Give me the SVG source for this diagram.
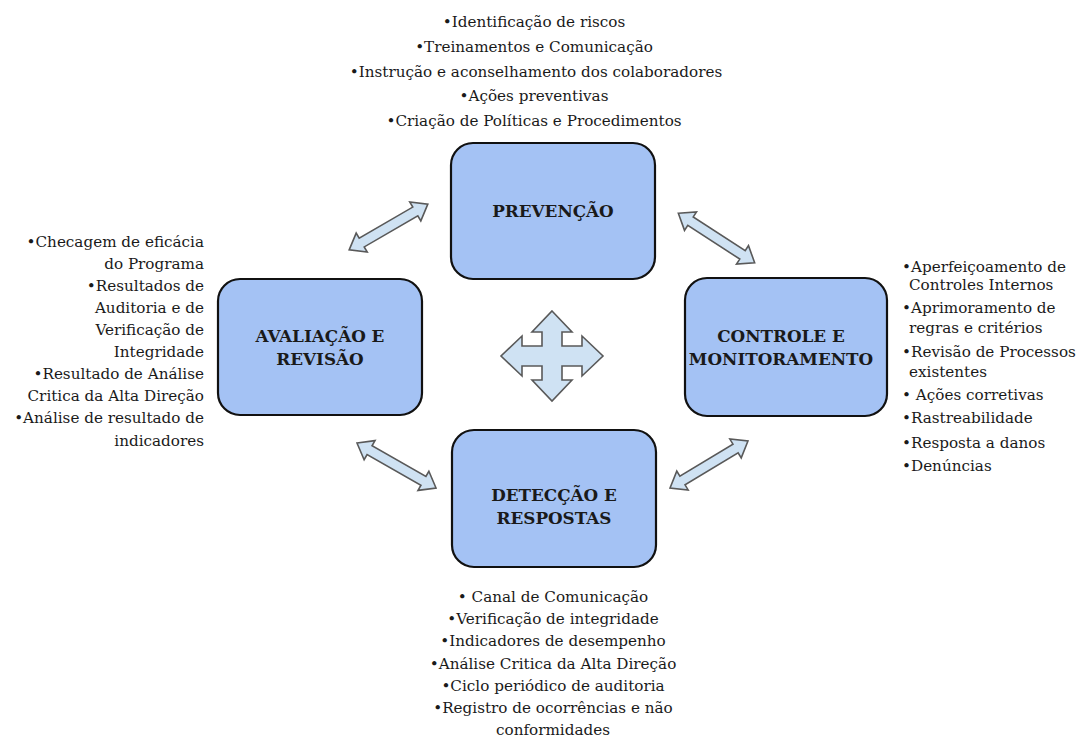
<svg xmlns="http://www.w3.org/2000/svg" xmlns:xlink="http://www.w3.org/1999/xlink" width="1080" height="737" viewBox="0 0 1080 737">
<style>
.box{fill:#a4c2f4;stroke:#111;stroke-width:2.2}
.lbl{font-family:"DejaVu Serif","Liberation Serif",serif;font-weight:bold;font-size:16.8px;fill:#1a1a1a;text-anchor:middle}
.txt{font-family:"DejaVu Serif","Liberation Serif",serif;font-size:15.2px;fill:#1a1a1a}
.arr{fill:#cfe2f3;stroke:#595959;stroke-width:1.6;stroke-linejoin:miter}
</style>
<defs>
<path id="dbl" d="M -45.5 0 L -31 -11 L -31 -5 L 31 -5 L 31 -11 L 45.5 0 L 31 11 L 31 5 L -31 5 L -31 11 Z"/>
</defs>
<rect width="1080" height="737" fill="#fff"/>

<g id="connectors">
<use xlink:href="#dbl" class="arr" transform="translate(388.5,227) rotate(-30.2)"/>
<use xlink:href="#dbl" class="arr" transform="translate(716.5,238) rotate(33)"/>
<use xlink:href="#dbl" class="arr" transform="translate(396.5,465.5) rotate(29.7)"/>
<use xlink:href="#dbl" class="arr" transform="translate(709,464.5) rotate(-31.1)"/>
<polygon class="arr" points="552,311 572,332 562,332 562,346 582,346 582,336 603,356 582,376 582,366 562,366 562,380 572,380 552,401 532,380 542,380 542,366 522,366 522,376 501,356 522,336 522,346 542,346 542,332 532,332"/>
</g>

<g id="prevencao">
<rect class="box" x="451" y="143" width="204" height="136" rx="22"/>
<text class="lbl" x="553" y="217">PREVENÇÃO</text>
</g>

<g id="avaliacao">
<rect class="box" x="218" y="279" width="204" height="136" rx="22"/>
<text class="lbl" x="320" y="342">AVALIAÇÃO E</text>
<text class="lbl" x="320" y="365">REVISÃO</text>
</g>

<g id="controle">
<rect class="box" x="685" y="278" width="202" height="138" rx="22"/>
<text class="lbl" x="781" y="342">CONTROLE E</text>
<text class="lbl" x="781" y="365">MONITORAMENTO</text>
</g>

<g id="deteccao">
<rect class="box" x="452" y="430" width="204" height="137" rx="22"/>
<text class="lbl" x="554" y="501">DETECÇÃO E</text>
<text class="lbl" x="554" y="524">RESPOSTAS</text>
</g>

<g id="texto-prevencao" class="txt" text-anchor="middle">
<text x="534" y="27">•Identificação de riscos</text>
<text x="534" y="52">•Treinamentos e Comunicação</text>
<text x="536" y="77">•Instrução e aconselhamento dos colaboradores</text>
<text x="534" y="101">•Ações preventivas</text>
<text x="534" y="126">•Criação de Políticas e Procedimentos</text>
</g>

<g id="texto-avaliacao" class="txt" text-anchor="end">
<text x="204" y="247">•Checagem de eficácia</text>
<text x="204" y="269">do Programa</text>
<text x="204" y="291">•Resultados de</text>
<text x="204" y="313">Auditoria e de</text>
<text x="204" y="335">Verificação de</text>
<text x="204" y="357">Integridade</text>
<text x="204" y="379">•Resultado de Análise</text>
<text x="204" y="401">Critica da Alta Direção</text>
<text x="204" y="423">•Análise de resultado de</text>
<text x="204" y="446">indicadores</text>
</g>

<g id="texto-controle" class="txt">
<text x="902" y="272">•Aperfeiçoamento de</text>
<text x="909" y="290">Controles Internos</text>
<text x="902" y="313">•Aprimoramento de</text>
<text x="909" y="333">regras e critérios</text>
<text x="902" y="357">•Revisão de Processos</text>
<text x="909" y="377">existentes</text>
<text x="902" y="400">• Ações corretivas</text>
<text x="902" y="423">•Rastreabilidade</text>
<text x="902" y="448">•Resposta a danos</text>
<text x="902" y="471">•Denúncias</text>
</g>

<g id="texto-deteccao" class="txt" text-anchor="middle">
<text x="553" y="602">• Canal de Comunicação</text>
<text x="553" y="624">•Verificação de integridade</text>
<text x="553" y="646">•Indicadores de desempenho</text>
<text x="553" y="669">•Análise Critica da Alta Direção</text>
<text x="553" y="691">•Ciclo periódico de auditoria</text>
<text x="553" y="713">•Registro de ocorrências e não</text>
<text x="553" y="735">conformidades</text>
</g>
</svg>
